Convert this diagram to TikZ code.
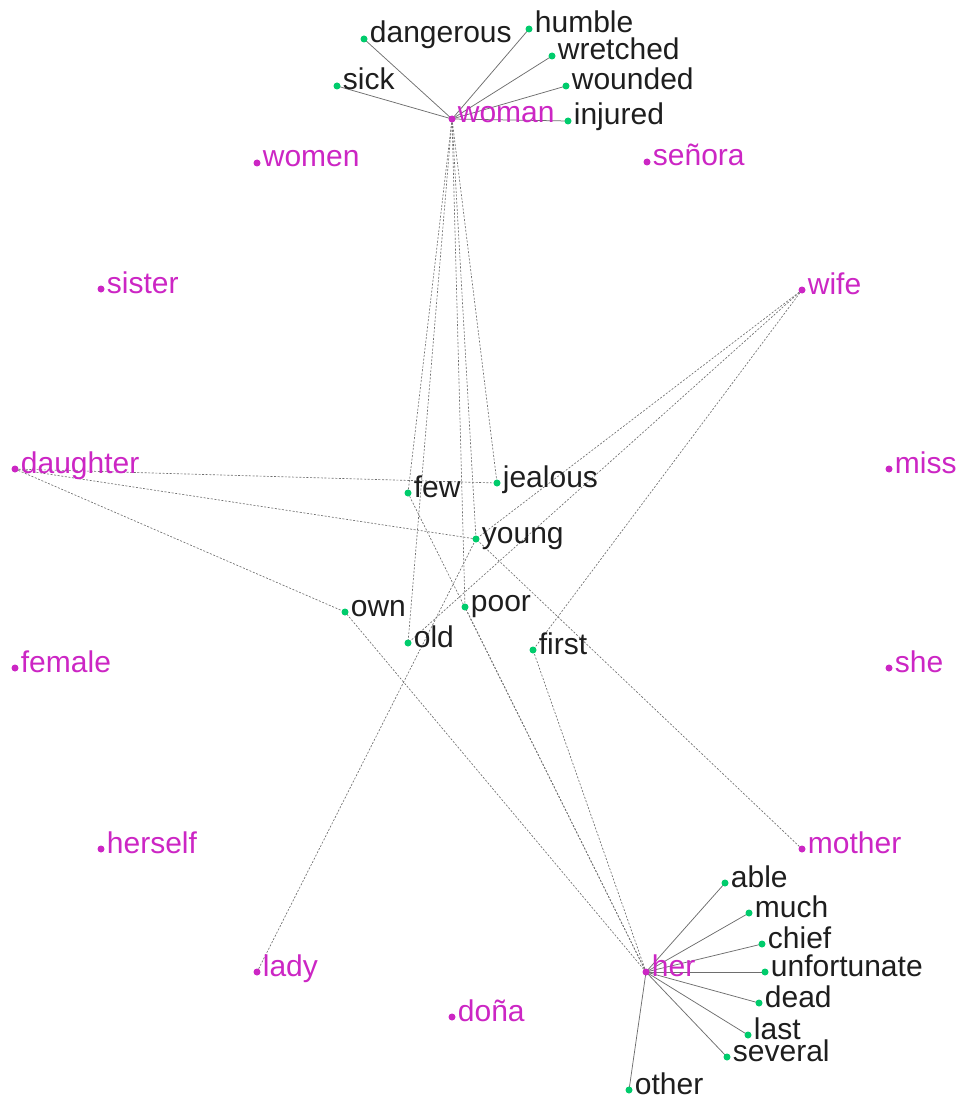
\documentclass[tikz,border=0pt]{standalone}
\usepackage{fontspec}
\setmainfont{Liberation Sans}
\usetikzlibrary{backgrounds}
\definecolor{nounpink}{RGB}{204,38,196}
\definecolor{adjgreen}{RGB}{0,204,108}
\definecolor{wordink}{RGB}{30,30,30}
\definecolor{linkgray}{RGB}{110,110,110}
\begin{document}
\begin{tikzpicture}[x=1pt,y=-1pt,
  every label/.style={anchor=base west,inner sep=0pt,xshift=2pt,yshift=-4pt,
    font=\fontsize{30}{36}\selectfont},
  noun/.style={circle,fill=nounpink,inner sep=0pt,minimum size=7pt,
    label={[text=nounpink]right:#1}},
  adj/.style={circle,fill=adjgreen,inner sep=0pt,minimum size=7pt,
    label={[text=wordink]right:#1}},
  strong/.style={draw=linkgray,line width=0.75pt},
  weak/.style={draw=linkgray,line width=0.65pt,dash pattern=on 2pt off 1.6pt}]
\useasboundingbox (0,0) rectangle (960,1099);
% nouns on the ring
\foreach \id/\word/\x/\y in {woman/woman/452/119, women/women/257/163,
  senora/señora/647/162, sister/sister/101/289, wife/wife/802/290,
  daughter/daughter/15/469, miss/miss/889/469, female/female/15/668,
  she/she/889/668, herself/herself/101/849, mother/mother/802/849,
  lady/lady/257/972, her/her/646/972, dona/doña/452/1017}
  \node[noun=\word] (\id) at (\x,\y) {};
% adjectives
\foreach \id/\x/\y in {sick/337/86, dangerous/364/39, humble/529/29,
  wretched/552/56, wounded/566/86, injured/568/121,
  few/408/493, jealous/497/483, young/476/539, own/345/612,
  poor/465/607, old/408/643, first/533/650,
  able/725/883, much/749/913, chief/762/944, unfortunate/765/972,
  dead/759/1003, last/748/1035, several/727/1057, other/629/1090}
  \node[adj=\id] (\id) at (\x,\y) {};
\begin{scope}[on background layer]
\foreach \b in {sick,dangerous,humble,wretched,wounded,injured}
  \draw[strong] (woman.center) -- (\b.center);
\foreach \b in {able,much,chief,unfortunate,dead,last,several,other}
  \draw[strong] (her.center) -- (\b.center);
\foreach \a/\b in {woman/few, woman/old, woman/poor, woman/young, woman/jealous,
  daughter/jealous, daughter/young, daughter/own,
  wife/young, wife/old, wife/first, lady/young, mother/young,
  her/own, her/few, her/poor, her/first}
  \draw[weak] (\a.center) -- (\b.center);
\end{scope}
\end{tikzpicture}
\end{document}
